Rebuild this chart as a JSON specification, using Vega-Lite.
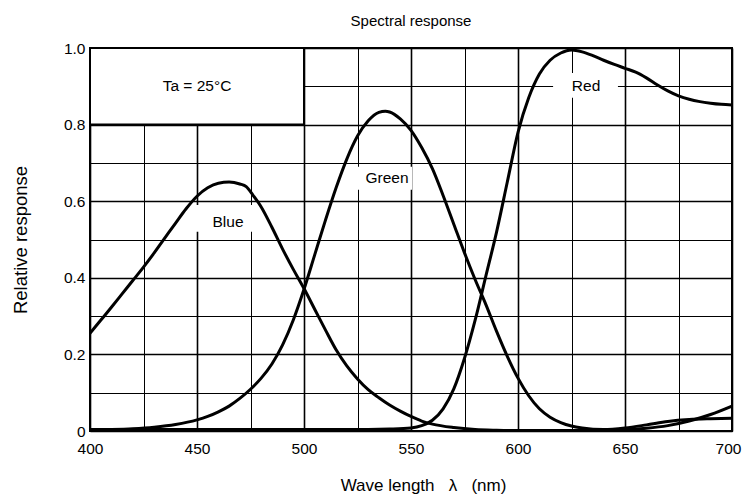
{
  "$schema": "https://vega.github.io/schema/vega-lite/v6.json",
  "width": 642,
  "height": 383,
  "autosize": {"type": "none"},
  "padding": {"left": 90, "top": 48, "right": 10, "bottom": 68},
  "background": "white",
  "title": {"text": "Spectral response", "fontSize": 15, "font": "Liberation Sans", "fontWeight": "normal", "offset": 12, "color": "black"},
  "config": {
    "view": {"stroke": "black", "strokeWidth": 2},
    "font": "Liberation Sans"
  },
  "datasets": {
    "curves": [
      {"series": "Blue", "wl": 400, "v": 0.255}, {"series": "Blue", "wl": 405, "v": 0.289}, {"series": "Blue", "wl": 410, "v": 0.323},
      {"series": "Blue", "wl": 415, "v": 0.358}, {"series": "Blue", "wl": 420, "v": 0.393}, {"series": "Blue", "wl": 425, "v": 0.428},
      {"series": "Blue", "wl": 430, "v": 0.465}, {"series": "Blue", "wl": 435, "v": 0.504}, {"series": "Blue", "wl": 440, "v": 0.543},
      {"series": "Blue", "wl": 445, "v": 0.581}, {"series": "Blue", "wl": 450, "v": 0.613}, {"series": "Blue", "wl": 455, "v": 0.635},
      {"series": "Blue", "wl": 460, "v": 0.647}, {"series": "Blue", "wl": 465, "v": 0.65}, {"series": "Blue", "wl": 470, "v": 0.645},
      {"series": "Blue", "wl": 473, "v": 0.638}, {"series": "Blue", "wl": 476, "v": 0.617}, {"series": "Blue", "wl": 480, "v": 0.585},
      {"series": "Blue", "wl": 485, "v": 0.532}, {"series": "Blue", "wl": 490, "v": 0.475}, {"series": "Blue", "wl": 495, "v": 0.422},
      {"series": "Blue", "wl": 500, "v": 0.372}, {"series": "Blue", "wl": 505, "v": 0.318}, {"series": "Blue", "wl": 510, "v": 0.264},
      {"series": "Blue", "wl": 515, "v": 0.212}, {"series": "Blue", "wl": 520, "v": 0.17}, {"series": "Blue", "wl": 525, "v": 0.136},
      {"series": "Blue", "wl": 530, "v": 0.108}, {"series": "Blue", "wl": 535, "v": 0.087}, {"series": "Blue", "wl": 540, "v": 0.068},
      {"series": "Blue", "wl": 545, "v": 0.052}, {"series": "Blue", "wl": 550, "v": 0.038}, {"series": "Blue", "wl": 555, "v": 0.026},
      {"series": "Blue", "wl": 560, "v": 0.018}, {"series": "Blue", "wl": 570, "v": 0.009}, {"series": "Blue", "wl": 580, "v": 0.004},
      {"series": "Blue", "wl": 590, "v": 0.002}, {"series": "Blue", "wl": 600, "v": 0.001}, {"series": "Blue", "wl": 625, "v": 0.001},
      {"series": "Blue", "wl": 650, "v": 0.003}, {"series": "Blue", "wl": 660, "v": 0.007}, {"series": "Blue", "wl": 670, "v": 0.014},
      {"series": "Blue", "wl": 680, "v": 0.026}, {"series": "Blue", "wl": 690, "v": 0.043}, {"series": "Blue", "wl": 700, "v": 0.065},

      {"series": "Green", "wl": 400, "v": 0.003}, {"series": "Green", "wl": 410, "v": 0.004}, {"series": "Green", "wl": 420, "v": 0.006},
      {"series": "Green", "wl": 430, "v": 0.01}, {"series": "Green", "wl": 440, "v": 0.017}, {"series": "Green", "wl": 450, "v": 0.029},
      {"series": "Green", "wl": 455, "v": 0.038}, {"series": "Green", "wl": 460, "v": 0.05}, {"series": "Green", "wl": 465, "v": 0.065},
      {"series": "Green", "wl": 470, "v": 0.085}, {"series": "Green", "wl": 475, "v": 0.109}, {"series": "Green", "wl": 480, "v": 0.138},
      {"series": "Green", "wl": 485, "v": 0.175}, {"series": "Green", "wl": 490, "v": 0.225}, {"series": "Green", "wl": 495, "v": 0.29},
      {"series": "Green", "wl": 500, "v": 0.37}, {"series": "Green", "wl": 505, "v": 0.46}, {"series": "Green", "wl": 510, "v": 0.55},
      {"series": "Green", "wl": 515, "v": 0.635}, {"series": "Green", "wl": 520, "v": 0.71}, {"series": "Green", "wl": 525, "v": 0.77},
      {"series": "Green", "wl": 530, "v": 0.81}, {"series": "Green", "wl": 535, "v": 0.832}, {"series": "Green", "wl": 538, "v": 0.835},
      {"series": "Green", "wl": 540, "v": 0.833}, {"series": "Green", "wl": 545, "v": 0.815}, {"series": "Green", "wl": 550, "v": 0.785},
      {"series": "Green", "wl": 555, "v": 0.74}, {"series": "Green", "wl": 560, "v": 0.685}, {"series": "Green", "wl": 565, "v": 0.615},
      {"series": "Green", "wl": 570, "v": 0.54}, {"series": "Green", "wl": 575, "v": 0.465}, {"series": "Green", "wl": 580, "v": 0.395},
      {"series": "Green", "wl": 585, "v": 0.33}, {"series": "Green", "wl": 590, "v": 0.26}, {"series": "Green", "wl": 595, "v": 0.195},
      {"series": "Green", "wl": 600, "v": 0.138}, {"series": "Green", "wl": 605, "v": 0.092}, {"series": "Green", "wl": 610, "v": 0.058},
      {"series": "Green", "wl": 615, "v": 0.036}, {"series": "Green", "wl": 620, "v": 0.022}, {"series": "Green", "wl": 625, "v": 0.013},
      {"series": "Green", "wl": 630, "v": 0.008}, {"series": "Green", "wl": 640, "v": 0.004}, {"series": "Green", "wl": 650, "v": 0.008},
      {"series": "Green", "wl": 660, "v": 0.016}, {"series": "Green", "wl": 670, "v": 0.025}, {"series": "Green", "wl": 680, "v": 0.03},
      {"series": "Green", "wl": 690, "v": 0.032}, {"series": "Green", "wl": 700, "v": 0.033},

      {"series": "Red", "wl": 400, "v": 0.004}, {"series": "Red", "wl": 450, "v": 0.004}, {"series": "Red", "wl": 500, "v": 0.004},
      {"series": "Red", "wl": 530, "v": 0.004}, {"series": "Red", "wl": 540, "v": 0.005}, {"series": "Red", "wl": 550, "v": 0.008},
      {"series": "Red", "wl": 555, "v": 0.014}, {"series": "Red", "wl": 560, "v": 0.028}, {"series": "Red", "wl": 565, "v": 0.058},
      {"series": "Red", "wl": 570, "v": 0.11}, {"series": "Red", "wl": 575, "v": 0.19}, {"series": "Red", "wl": 580, "v": 0.29},
      {"series": "Red", "wl": 585, "v": 0.405}, {"series": "Red", "wl": 590, "v": 0.52}, {"series": "Red", "wl": 595, "v": 0.65},
      {"series": "Red", "wl": 600, "v": 0.78}, {"series": "Red", "wl": 605, "v": 0.87}, {"series": "Red", "wl": 610, "v": 0.932},
      {"series": "Red", "wl": 615, "v": 0.968}, {"series": "Red", "wl": 620, "v": 0.987}, {"series": "Red", "wl": 625, "v": 0.995},
      {"series": "Red", "wl": 630, "v": 0.99}, {"series": "Red", "wl": 635, "v": 0.98}, {"series": "Red", "wl": 640, "v": 0.968},
      {"series": "Red", "wl": 645, "v": 0.957}, {"series": "Red", "wl": 650, "v": 0.947}, {"series": "Red", "wl": 655, "v": 0.937},
      {"series": "Red", "wl": 660, "v": 0.922}, {"series": "Red", "wl": 665, "v": 0.904}, {"series": "Red", "wl": 670, "v": 0.888},
      {"series": "Red", "wl": 675, "v": 0.875}, {"series": "Red", "wl": 680, "v": 0.866}, {"series": "Red", "wl": 685, "v": 0.86},
      {"series": "Red", "wl": 690, "v": 0.856}, {"series": "Red", "wl": 695, "v": 0.853}, {"series": "Red", "wl": 700, "v": 0.851}
    ],
    "tabox": [
      {"wl": 400, "wl2": 500, "v": 0.8, "v2": 1.0}
    ],
    "labelboxes": [
      {"name": "Blue", "wl": 449, "wl2": 476, "v": 0.52, "v2": 0.59},
      {"name": "Green", "wl": 524.5, "wl2": 550.5, "v": 0.63, "v2": 0.69},
      {"name": "Red", "wl": 616.4, "wl2": 646.7, "v": 0.87, "v2": 0.935}
    ],
    "labels": [
      {"text": "Blue", "wl": 464.5, "v": 0.546},
      {"text": "Green", "wl": 538.8, "v": 0.66},
      {"text": "Red", "wl": 631.8, "v": 0.9},
      {"text": "Ta = 25°C", "wl": 450, "v": 0.9}
    ]
  },
  "encoding": {
    "x": {
      "field": "wl", "type": "quantitative",
      "scale": {"domain": [400, 700], "nice": false, "zero": false},
      "axis": {
        "values": [400, 425, 450, 475, 500, 525, 550, 575, 600, 625, 650, 675, 700],
        "labelExpr": "datum.value % 50 === 0 ? datum.label : ''",
        "labelOffset": {"condition": {"test": "datum.value === 700", "value": -4}, "value": 0},
        "domain": false, "ticks": false,
        "grid": true, "gridColor": "black", "gridOpacity": 1,
        "gridWidth": {"condition": {"test": "datum.value % 50 === 0", "value": 1.6}, "value": 1},
        "labelFont": "Liberation Sans", "labelFontSize": 15.5, "labelColor": "black", "labelPadding": 10,
        "labelFlush": false,
        "title": "Wave length\u00a0\u00a0\u00a0λ\u00a0\u00a0\u00a0(nm)",
        "titleX": 333, "titleAlign": "center",
        "titleFont": "Liberation Sans", "titleFontSize": 17, "titleFontWeight": "normal", "titleColor": "black", "titlePadding": 21
      }
    },
    "y": {
      "field": "v", "type": "quantitative",
      "scale": {"domain": [0, 1], "nice": false},
      "axis": {
        "values": [0, 0.1, 0.2, 0.3, 0.4, 0.5, 0.6, 0.7, 0.8, 0.9, 1.0],
        "labelExpr": "round(datum.value * 10) % 2 === 0 ? (datum.value === 0 ? '0' : format(datum.value, '.1f')) : ''",
        "domain": false, "ticks": false,
        "grid": true, "gridColor": "black", "gridOpacity": 1,
        "gridWidth": {"condition": {"test": "round(datum.value * 10) % 2 === 0", "value": 1.6}, "value": 1},
        "labelFont": "Liberation Sans", "labelFontSize": 15.5, "labelColor": "black", "labelPadding": 5,
        "labelFlush": false,
        "title": "Relative response",
        "titleFont": "Liberation Sans", "titleFontSize": 18.5, "titleFontWeight": "normal", "titleColor": "black", "titlePadding": 33
      }
    }
  },
  "layer": [
    {
      "data": {"name": "tabox"},
      "mark": {"type": "rect", "fill": "white", "stroke": "black", "strokeWidth": 2},
      "encoding": {"x2": {"field": "wl2"}, "y2": {"field": "v2"}}
    },
    {
      "data": {"name": "labelboxes"},
      "mark": {"type": "rect", "fill": "white", "strokeWidth": 0},
      "encoding": {"x2": {"field": "wl2"}, "y2": {"field": "v2"}}
    },
    {
      "data": {"name": "curves"},
      "mark": {"type": "line", "color": "black", "strokeWidth": 3, "interpolate": "monotone", "clip": true},
      "encoding": {"detail": {"field": "series"}, "order": {"field": "wl"}}
    },
    {
      "data": {"name": "labels"},
      "mark": {"type": "text", "font": "Liberation Sans", "fontSize": 15.5, "color": "black", "align": "center", "baseline": "middle"},
      "encoding": {"text": {"field": "text"}}
    }
  ]
}
